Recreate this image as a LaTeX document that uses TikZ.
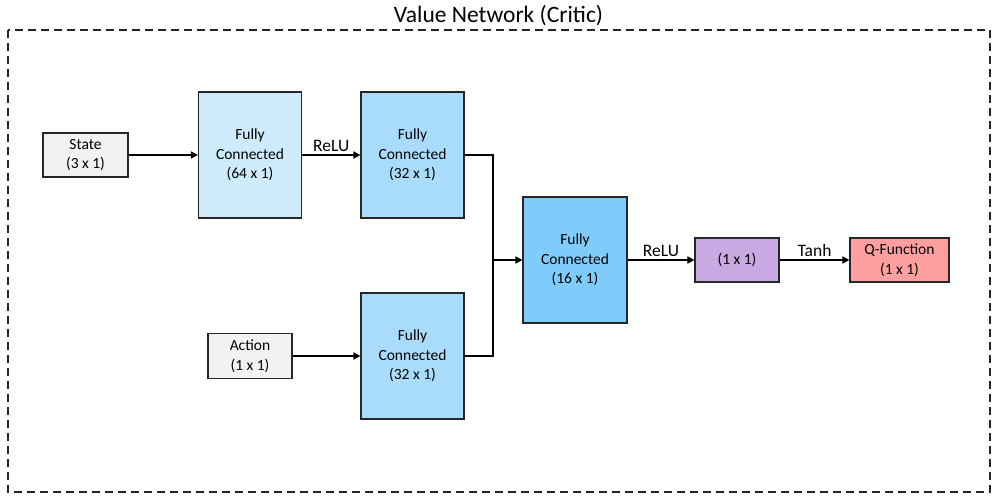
\documentclass[tikz,border=0pt]{standalone}
\usepackage{fontspec}
\setmainfont{Carlito}
\usetikzlibrary{arrows.meta}
\definecolor{inbox}{HTML}{F2F2F2}
\definecolor{fcA}{HTML}{CDEBFB}
\definecolor{fcB}{HTML}{A9DCFA}
\definecolor{fcC}{HTML}{7FCCFA}
\definecolor{purp}{HTML}{C8A9E2}
\definecolor{qred}{HTML}{FF9F9F}
\begin{document}
\begin{tikzpicture}[x=1pt,y=-1pt,
  box/.style={draw=black!85, line width=1.1pt, align=center, inner sep=0pt,
    font=\fontsize{15.5}{19.5}\selectfont},
  conn/.style={line width=1.6pt, -{Triangle[length=7pt,width=7pt]}},
  wire/.style={line width=1.6pt},
  lab/.style={font=\fontsize{17.5}{20}\selectfont, inner sep=1pt, above=2pt}]
\useasboundingbox (0,0) rectangle (1000,499);
\draw[line width=1.1pt, dash pattern=on 8pt off 5pt, black!85] (8,30) rectangle (990,492);
\node[anchor=base, font=\fontsize{23.5}{26}\selectfont] (title) at (498.5,22) {Value Network (Critic)};

\node[box, fill=inbox, minimum width=85, minimum height=44] (state) at (85.5,155) {State\\(3 x 1)};
\node[box, fill=inbox, minimum width=84, minimum height=45] (action) at (250,356) {Action\\(1 x 1)};
\node[box, fill=fcA, minimum width=103, minimum height=126] (fc64) at (250,155) {Fully\\Connected\\(64 x 1)};
\node[box, fill=fcB, minimum width=103, minimum height=126] (fc32a) at (412.5,155) {Fully\\Connected\\(32 x 1)};
\node[box, fill=fcB, minimum width=103, minimum height=126] (fc32b) at (412.5,356) {Fully\\Connected\\(32 x 1)};
\node[box, fill=fcC, minimum width=104, minimum height=126] (fc16) at (575,260) {Fully\\Connected\\(16 x 1)};
\node[box, fill=purp, minimum width=84, minimum height=44] (mid) at (737,260) {(1 x 1)};
\node[box, fill=qred, minimum width=99, minimum height=44] (q) at (899.5,260) {Q-Function\\(1 x 1)};
\coordinate (join) at (493,260);

\draw[conn] (state.east) -- (fc64.west);
\draw[conn] (fc64.east) -- node[lab] {ReLU} (fc32a.west);
\draw[conn] (action.east) -- (fc32b.west);
\draw[wire] (fc32a.east) -| (join);
\draw[wire] (fc32b.east) -| (join);
\draw[conn] (join) -- (fc16.west);
\draw[conn] (fc16.east) -- node[lab] {ReLU} (mid.west);
\draw[conn] (mid.east) -- node[lab] {Tanh} (q.west);
\end{tikzpicture}
\end{document}
